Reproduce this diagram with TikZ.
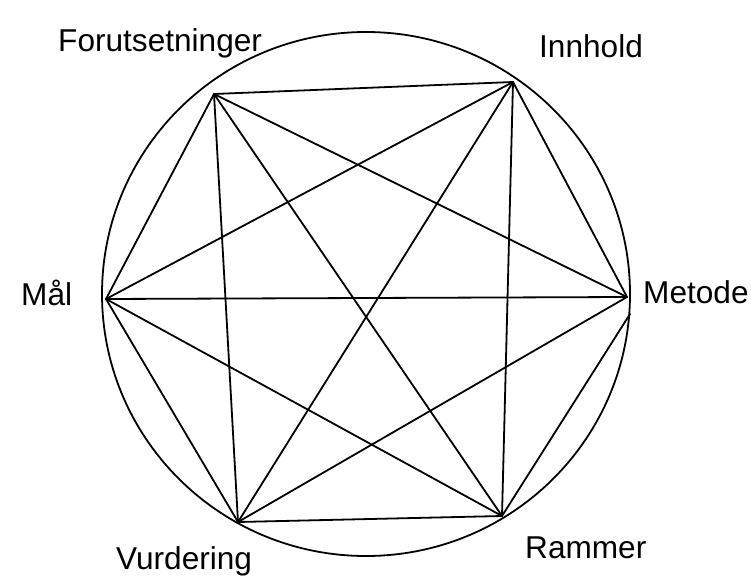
\documentclass[tikz,border=0pt]{standalone}
\usepackage{fontspec}
\setmainfont{Liberation Sans}
\begin{document}
\begin{tikzpicture}[x=1pt,y=-1pt,
  edge/.style={line width=1.8pt,line join=round,line cap=round},
  lbl/.style={anchor=base west,inner sep=0pt,font=\fontsize{31.6}{38}\selectfont}]
\useasboundingbox (0,0) rectangle (751,577);
\draw[edge] (366,294) ellipse [x radius=264pt, y radius=262pt];
\coordinate (F) at (214,94);
\coordinate (I) at (513,82);
\coordinate (Me) at (627,297);
\coordinate (Me2) at (630,314);
\coordinate (R) at (502,516);
\coordinate (V) at (238,522);
\coordinate (M) at (106,299);
\foreach \a/\b in {F/I,F/Me,F/R,F/V,F/M,I/Me,I/R,I/V,I/M,Me2/R,Me/V,Me/M,R/V,R/M,V/M}
  \draw[edge] (\a) -- (\b);
\node[lbl] (tF) at (58,52) {Forutsetninger};
\node[lbl] (tI) at (539,58) {Innhold};
\node[lbl] (tMe) at (643,303) {Metode};
\node[lbl] (tM) at (21,305) {Mål};
\node[lbl] (tV) at (116,569) {Vurdering};
\node[lbl] (tR) at (525,558) {Rammer};
\end{tikzpicture}
\end{document}
